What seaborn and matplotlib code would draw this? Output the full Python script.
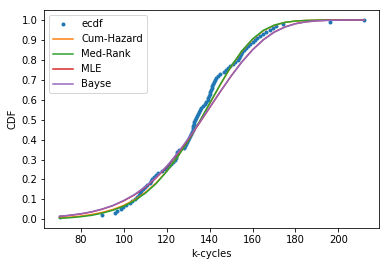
import matplotlib
matplotlib.use("Agg")
import matplotlib.pyplot as plt
import seaborn as sns
import numpy as np
import pandas as pd

# ECDF sample (k-cycles), sorted
ecdf_x = [70, 90, 96, 97, 98.5, 99.5, 101, 103, 104, 105,
          106, 107, 107.5, 108, 109, 110, 111, 112, 112.5, 113,
          114, 115, 116, 118, 119, 120, 121, 122, 123, 124,
          124.2, 124.4, 124.6, 124.8, 125.5, 128, 128.5, 129, 129.5, 130,
          130.5, 131, 131.5, 131.8, 132, 132.2, 132.4, 132.6, 132.8, 133,
          133.5, 134, 134.5, 135, 135.5, 136, 137, 138, 138.5, 139,
          139.3, 139.6, 140, 140.3, 140.6, 141, 141.3, 141.6, 142, 142.5,
          143, 144, 145, 146.5, 147.5, 148.5, 149.5, 151, 152, 153,
          153.5, 154, 154.5, 155, 156, 157, 158, 159, 160, 161,
          162, 163.5, 165, 166.5, 168, 169.5, 171, 174, 196, 212]
ecdf_y = [(i + 1) / len(ecdf_x) for i in range(len(ecdf_x))]

# fitted CDF curves
curve_x = [70, 75, 80, 85, 90, 95, 100, 105, 110, 115, 120, 125, 130, 135,
           140, 145, 150, 155, 160, 165, 170, 175, 180, 185, 190, 195, 200,
           205, 210, 212]
cum_hazard = [0.007, 0.011, 0.016, 0.024, 0.035, 0.050, 0.070, 0.098, 0.135,
              0.182, 0.242, 0.313, 0.395, 0.485, 0.580, 0.676, 0.766, 0.843,
              0.903, 0.946, 0.973, 0.988, 0.995, 0.998, 0.9995, 1.0, 1.0,
              1.0, 1.0, 1.0]
med_rank = [0.005, 0.008, 0.013, 0.020, 0.031, 0.046, 0.066, 0.094, 0.131,
            0.179, 0.240, 0.312, 0.395, 0.486, 0.582, 0.678, 0.768, 0.845,
            0.905, 0.948, 0.974, 0.988, 0.995, 0.998, 0.9995, 1.0, 1.0,
            1.0, 1.0, 1.0]
mle = [0.014, 0.020, 0.027, 0.037, 0.051, 0.069, 0.093, 0.123, 0.161,
       0.208, 0.264, 0.329, 0.401, 0.479, 0.560, 0.641, 0.719, 0.790,
       0.851, 0.901, 0.939, 0.965, 0.982, 0.991, 0.996, 0.9985, 0.9995,
       1.0, 1.0, 1.0]
bayse = [0.015, 0.021, 0.028, 0.038, 0.052, 0.070, 0.095, 0.125, 0.164,
         0.211, 0.267, 0.332, 0.404, 0.482, 0.562, 0.642, 0.719, 0.789,
         0.850, 0.900, 0.938, 0.964, 0.981, 0.991, 0.996, 0.9985, 0.9995,
         1.0, 1.0, 1.0]

x_ticks = [80, 100, 120, 140, 160, 180, 200]
y_ticks = [0.0, 0.1, 0.2, 0.3, 0.4, 0.5, 0.6, 0.7, 0.8, 0.9, 1.0]

fig = plt.figure(figsize=(389 / 72, 266 / 72), dpi=72)
ax = fig.add_axes([0.114, 0.142, 0.861, 0.820])

colors = sns.color_palette("tab10")
sns.scatterplot(x=ecdf_x, y=ecdf_y, ax=ax, color=colors[0], s=16,
                linewidth=0, label="ecdf", zorder=2)
for vals, name, c in [(cum_hazard, "Cum-Hazard", colors[1]),
                      (med_rank, "Med-Rank", colors[2]),
                      (mle, "MLE", colors[3]),
                      (bayse, "Bayse", colors[4])]:
    sns.lineplot(x=curve_x, y=vals, ax=ax, color=c, label=name,
                 linewidth=1.5, zorder=3)

ax.set_xticks(x_ticks)
ax.set_yticks(y_ticks)
ax.set_xlabel("k-cycles")
ax.set_ylabel("CDF")
ax.margins(x=0.05, y=0.05)
ax.legend(loc="upper left")

fig.savefig("out.png", dpi=72)
